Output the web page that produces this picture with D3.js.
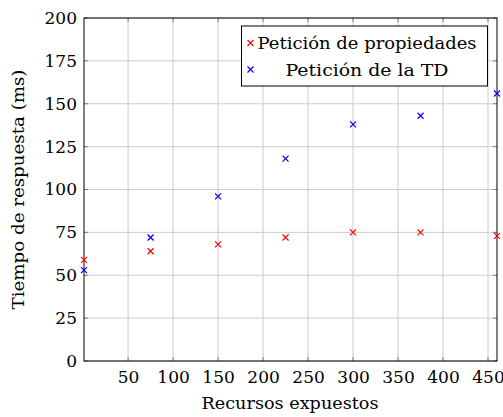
<!DOCTYPE html>
<html>
<head>
<meta charset="utf-8">
<script src="https://cdn.jsdelivr.net/npm/d3@7"></script>
</head>
<body style="margin:0">
<svg id="chart" width="503" height="417"></svg>
<script>
// data
var recursos = [1, 75, 150, 225, 300, 375, 460];
var propiedades = [59, 64, 68, 72, 75, 75, 73];
var peticionTD = [53, 72, 96, 118, 138, 143, 156];
var xTicks = [50, 100, 150, 200, 250, 300, 350, 400, 450];
var yTicks = [0, 25, 50, 75, 100, 125, 150, 175, 200];
var seriesNames = ["Petición de propiedades", "Petición de la TD"];
var seriesColors = ["#ff0000", "#0000ff"];

var svg = d3.select("#chart");
var plotL = 84, plotR = 497, plotT = 18, plotB = 361;
var serif = "'DejaVu Serif', serif";

var x = d3.scaleLinear().domain([1, 460]).range([plotL, plotR]);
var y = d3.scaleLinear().domain([0, 200]).range([plotB, plotT]);

// grid
var grid = svg.append("g").attr("stroke", "#cccccc").attr("stroke-width", 1);
grid.selectAll(".gx").data(xTicks).enter().append("line")
    .attr("x1", function(d) { return x(d); }).attr("x2", function(d) { return x(d); })
    .attr("y1", plotT).attr("y2", plotB);
grid.selectAll(".gy").data(yTicks).enter().append("line")
    .attr("x1", plotL).attr("x2", plotR)
    .attr("y1", function(d) { return y(d); }).attr("y2", function(d) { return y(d); });

// inner ticks on all four sides
var ticks = svg.append("g").attr("stroke", "#7f7f7f").attr("stroke-width", 1);
xTicks.forEach(function(d) {
    ticks.append("line").attr("x1", x(d)).attr("x2", x(d)).attr("y1", plotB).attr("y2", plotB - 4);
    ticks.append("line").attr("x1", x(d)).attr("x2", x(d)).attr("y1", plotT).attr("y2", plotT + 4);
});
yTicks.forEach(function(d) {
    ticks.append("line").attr("x1", plotL).attr("x2", plotL + 4).attr("y1", y(d)).attr("y2", y(d));
    ticks.append("line").attr("x1", plotR).attr("x2", plotR - 4).attr("y1", y(d)).attr("y2", y(d));
});

// tick labels via d3 axes, lines hidden
var xAxis = svg.append("g").attr("transform", "translate(0," + plotB + ")")
    .call(d3.axisBottom(x).tickValues(xTicks).tickSize(0).tickPadding(10));
var yAxis = svg.append("g").attr("transform", "translate(" + plotL + ",0)")
    .call(d3.axisLeft(y).tickValues(yTicks).tickSize(0).tickPadding(7));
[xAxis, yAxis].forEach(function(a) {
    a.select(".domain").remove();
    a.attr("font-size", 17);
    a.selectAll("text").attr("fill", "#000").style("font-family", serif);
});

// frame
svg.append("rect").attr("x", plotL).attr("y", plotT)
    .attr("width", plotR - plotL).attr("height", plotB - plotT)
    .attr("fill", "none").attr("stroke", "#000").attr("stroke-width", 1);

function cross(g, cx, cy, color, s) {
    g.append("path")
        .attr("d", "M" + (cx - s) + "," + (cy - s) + "L" + (cx + s) + "," + (cy + s) +
                   "M" + (cx - s) + "," + (cy + s) + "L" + (cx + s) + "," + (cy - s))
        .attr("stroke", color).attr("stroke-width", 1.2).attr("fill", "none");
}

var marks = svg.append("g");
[propiedades, peticionTD].forEach(function(vals, i) {
    vals.forEach(function(v, j) {
        cross(marks, x(recursos[j]), y(v), seriesColors[i], 3);
    });
});

// legend
var lg = svg.append("g");
lg.append("rect").attr("x", 241.5).attr("y", 26).attr("width", 246).attr("height", 60)
    .attr("fill", "#fff").attr("stroke", "#000").attr("stroke-width", 1);
var legendWidths = [219, 163];
seriesNames.forEach(function(name, i) {
    var ly = 43 + i * 26.5;
    cross(lg, 250.5, ly, seriesColors[i], 3);
    lg.append("text").attr("x", 367).attr("y", ly + 6)
        .attr("text-anchor", "middle").attr("font-size", 17).style("font-family", serif)
        .attr("textLength", legendWidths[i]).attr("lengthAdjust", "spacingAndGlyphs")
        .text(name);
});

// titles
svg.append("text").attr("x", 290).attr("y", 409).attr("text-anchor", "middle")
    .attr("font-size", 17).style("font-family", serif)
    .attr("textLength", 177).attr("lengthAdjust", "spacingAndGlyphs")
    .text("Recursos expuestos");
svg.append("text").attr("transform", "translate(24," + ((plotT + plotB) / 2) + ") rotate(-90)")
    .attr("text-anchor", "middle").attr("font-size", 17).style("font-family", serif)
    .attr("textLength", 240).attr("lengthAdjust", "spacingAndGlyphs")
    .text("Tiempo de respuesta (ms)");
</script>
</body>
</html>
